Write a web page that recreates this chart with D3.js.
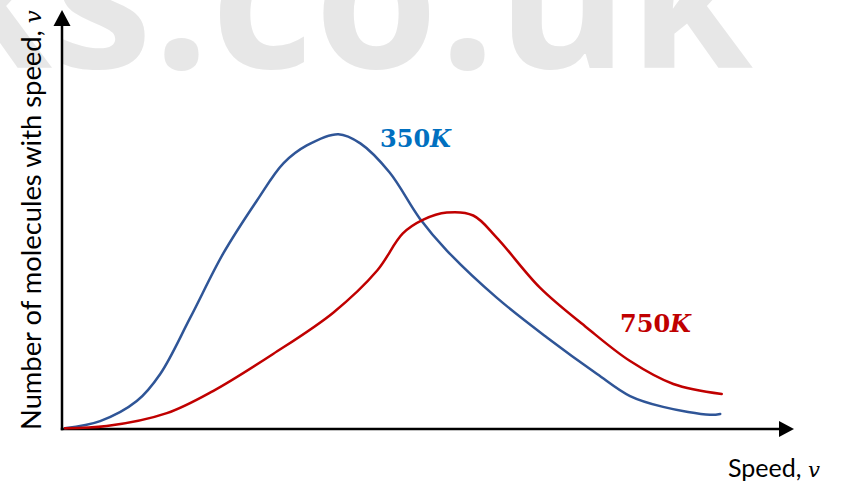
<!DOCTYPE html>
<html>
<head>
<meta charset="utf-8">
<script src="https://cdn.jsdelivr.net/npm/d3@7"></script>
<style>
  body { margin: 0; background: #fff; }
  svg { display: block; }
</style>
</head>
<body>
<div id="chart"></div>
<script>
// speed (arbitrary units) and number of molecules (arbitrary units)
const speed350 = [4, 52, 102, 134, 175, 220, 266, 302, 334, 377, 407, 447, 488, 525, 593, 662, 730, 775, 820, 884, 898];
const count350 = [0.2, 1.9, 6.7, 13.2, 26.7, 42.1, 54.8, 63.7, 68.0, 70.7, 68.5, 61.5, 50.5, 42.8, 31.5, 21.9, 13.2, 7.9, 5.3, 3.4, 3.6];

const speed750 = [4, 61, 143, 206, 288, 370, 430, 465, 493, 525, 561, 593, 652, 716, 775, 834, 900];
const count750 = [0.2, 0.7, 3.8, 9.1, 18.0, 27.9, 38.0, 46.9, 50.2, 51.9, 51.2, 45.9, 33.9, 24.3, 16.3, 10.8, 8.4];

const seriesNames = ["350K", "750K"];
const seriesColors = ["#2F5597", "#C00000"];
const labelColors = ["#0070C0", "#C00000"];

const W = 843, H = 483;
const svg = d3.select("#chart").append("svg")
  .attr("width", W)
  .attr("height", H);

// watermark, sized so that its two dots fall where they are in the picture
const mark = svg.append("text")
  .attr("x", 0)
  .attr("y", 68)
  .attr("font-family", "Open Sans")
  .attr("font-weight", 700)
  .attr("font-size", 200)
  .attr("letter-spacing", 1)
  .attr("fill", "#e7e7e7")
  .text("ks.co.uk");
{
  const dotMid = i => {
    const b = mark.node().getExtentOfChar(i);
    return b.x + b.width / 2;
  };
  let k = 286 / (dotMid(5) - dotMid(2));
  mark.attr("font-size", 200 * k);
  mark.attr("x", 182 - dotMid(2));
}

const x = d3.scaleLinear().domain([0, 1000]).range([62, 795]);
const y = d3.scaleLinear().domain([0, 100]).range([429, 12]);

// axes
const axisColor = "#000";
svg.append("line")
  .attr("x1", x(0)).attr("y1", y(0) + 1.2)
  .attr("x2", x(0)).attr("y2", y(100) + 12)
  .attr("stroke", axisColor).attr("stroke-width", 2.5);
svg.append("line")
  .attr("x1", x(0) - 1.2).attr("y1", y(0))
  .attr("x2", x(1000) - 12).attr("y2", y(0))
  .attr("stroke", axisColor).attr("stroke-width", 2.5);

// arrow heads
svg.append("path")
  .attr("d", `M${x(0)},${y(100) - 2} L${x(0) - 8.5},${y(100) + 14} L${x(0) + 8.5},${y(100) + 14} Z`)
  .attr("fill", axisColor);
svg.append("path")
  .attr("d", `M${x(1000) - 1},${y(0)} L${x(1000) - 16},${y(0) - 8} L${x(1000) - 16},${y(0) + 8} Z`)
  .attr("fill", axisColor);

// curves
const line = d3.line()
  .x(d => x(d[0]))
  .y(d => y(d[1]))
  .curve(d3.curveCatmullRom.alpha(0.5));

const series = [
  d3.zip(speed350, count350),
  d3.zip(speed750, count750)
];

svg.append("g")
  .selectAll("path")
  .data(series)
  .join("path")
    .attr("d", line)
    .attr("fill", "none")
    .attr("stroke", (d, i) => seriesColors[i])
    .attr("stroke-width", 2.5)
    .attr("stroke-linecap", "round")
    .attr("stroke-linejoin", "round");

// curve labels
const labelPos = [[380, 147], [620, 332]];
const labels = svg.append("g")
  .selectAll("text")
  .data(seriesNames)
  .join("text")
    .attr("x", (d, i) => labelPos[i][0])
    .attr("y", (d, i) => labelPos[i][1])
    .attr("font-family", "DejaVu Serif")
    .attr("font-weight", 700)
    .attr("font-size", 24)
    .attr("fill", (d, i) => labelColors[i]);
labels.append("tspan").text(d => d.slice(0, -1));
labels.append("tspan").attr("font-style", "italic").text(d => d.slice(-1));

// axis titles
const xTitle = svg.append("text")
  .attr("x", 728)
  .attr("y", 477)
  .attr("font-family", "Lato")
  .attr("font-size", 26)
  .attr("fill", "#000");
xTitle.append("tspan").text("Speed, ");
xTitle.append("tspan")
  .attr("font-family", "DejaVu Serif")
  .attr("font-style", "italic")
  .attr("font-size", 22)
  .text("v");

const yTitle = svg.append("text")
  .attr("transform", "translate(41,430) rotate(-90)")
  .attr("font-family", "Lato")
  .attr("font-size", 26)
  .attr("fill", "#000");
yTitle.append("tspan").text("Number of molecules with speed, ");
yTitle.append("tspan")
  .attr("font-family", "DejaVu Serif")
  .attr("font-style", "italic")
  .attr("font-size", 22)
  .text("v");

// squeeze the titles to the length they have in the picture
function fit(sel, target) {
  const len = sel.node().getComputedTextLength();
  const k = target / len;
  sel.selectAll("tspan").each(function() {
    const t = d3.select(this);
    const fs = +t.attr("font-size") || +sel.attr("font-size");
    t.attr("font-size", fs * k);
  });
}
fit(yTitle, 420);
fit(xTitle, 92);
</script>
</body>
</html>
